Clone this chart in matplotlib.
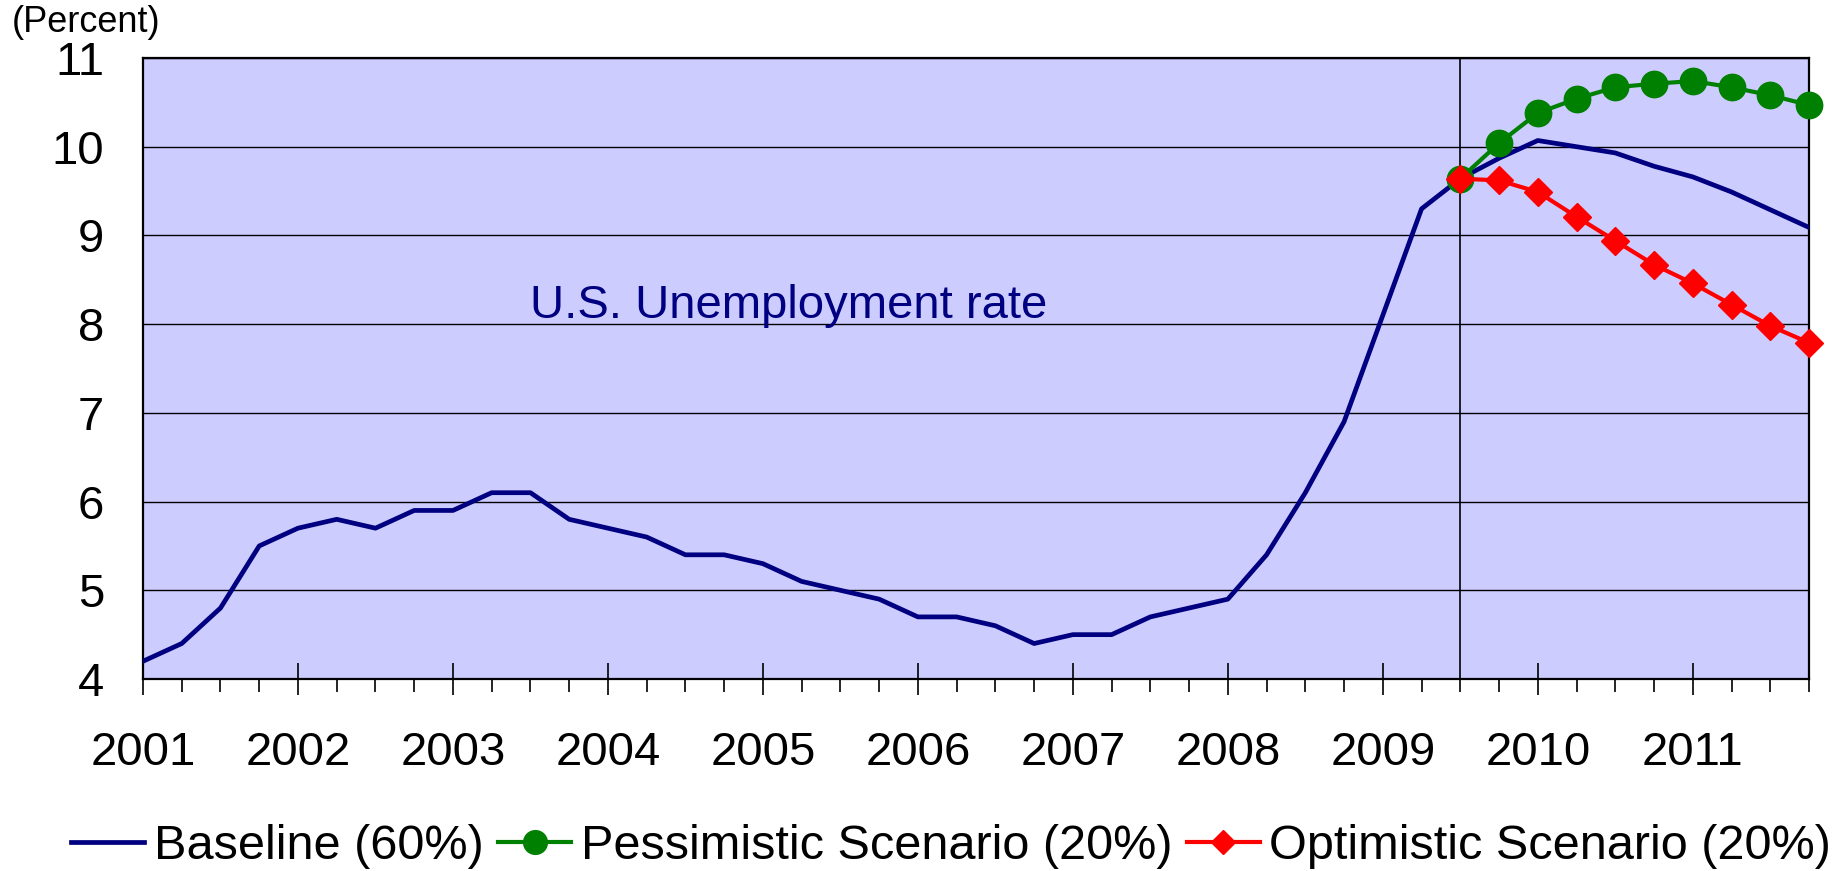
import numpy as np
import matplotlib as mpl
mpl.use('Agg')
import matplotlib.pyplot as plt

plt.rcParams['font.family'] = ['Liberation Sans', 'DejaVu Sans']

# quarterly unemployment rate, 2001Q1 - 2011Q4
years = list(range(2001, 2012))
baseline = [4.2, 4.4, 4.8, 5.5,
            5.7, 5.8, 5.7, 5.9,
            5.9, 6.1, 6.1, 5.8,
            5.7, 5.6, 5.4, 5.4,
            5.3, 5.1, 5.0, 4.9,
            4.7, 4.7, 4.6, 4.4,
            4.5, 4.5, 4.7, 4.8,
            4.9, 5.4, 6.1, 6.9,
            8.1, 9.3, 9.64, 9.87,
            10.07, 10.0, 9.93, 9.78,
            9.66, 9.49, 9.29, 9.09]

# scenarios start from 2009Q3
start_q = 34
pessimistic = [9.64, 10.04, 10.38, 10.54, 10.67, 10.71, 10.74, 10.67, 10.58, 10.47]
optimistic = [9.64, 9.62, 9.49, 9.21, 8.94, 8.67, 8.46, 8.22, 7.98, 7.79]

q = np.arange(len(baseline))
q_fc = np.arange(start_q, start_q + len(pessimistic))

fig = plt.figure(figsize=(18.47, 8.71), dpi=100)
ax = fig.add_axes([143/1847, 1 - 679/871, (1809 - 143)/1847, (679 - 58)/871])
ax.set_facecolor('#CCCCFF')

ax.plot(q, baseline, color='#000080', lw=3.4, label='Baseline (60%)', zorder=3)
ax.plot(q_fc, pessimistic, color='#008000', lw=3.0, marker='o', markersize=19,
        label='Pessimistic Scenario (20%)', zorder=4, clip_on=False)
ax.plot(q_fc, optimistic, color='#FF0000', lw=3.0, marker='D', markersize=14,
        label='Optimistic Scenario (20%)', zorder=5, clip_on=False)

ax.axvline(start_q, color='black', lw=1.2, zorder=2)

ax.set_xlim(0, len(baseline) - 1)
ax.set_ylim(4, 11)
ax.set_yticks(range(4, 12))
ax.yaxis.grid(True, color='black', lw=1.0)
ax.set_axisbelow(True)

ax.set_xticks(np.arange(0, len(baseline), 4))
ax.set_xticklabels([str(y) for y in years])
ax.set_xticks(q, minor=True)
ax.tick_params(axis='x', which='major', direction='inout', length=23, width=1.2,
               pad=26, labelsize=34)
ax.tick_params(axis='x', which='minor', direction='out', length=9, width=1.2)
ax.tick_params(axis='y', length=0, pad=28, labelsize=34)

for s in ax.spines.values():
    s.set_linewidth(1.6)

ax.text(10, 8.07, 'U.S. Unemployment rate', color='#000080', fontsize=34,
        ha='left', va='baseline')

fig.text(12/1847, 1 - 22/871, '(Percent)', fontsize=26, ha='left', va='center')

fig.legend(loc='center', bbox_to_anchor=(0.515, 0.028), ncol=3, frameon=False,
           fontsize=35, handlelength=1.5, handletextpad=0.2, columnspacing=0.3,
           borderpad=0, markerscale=0.9)

fig.savefig('out.png', dpi=100)
